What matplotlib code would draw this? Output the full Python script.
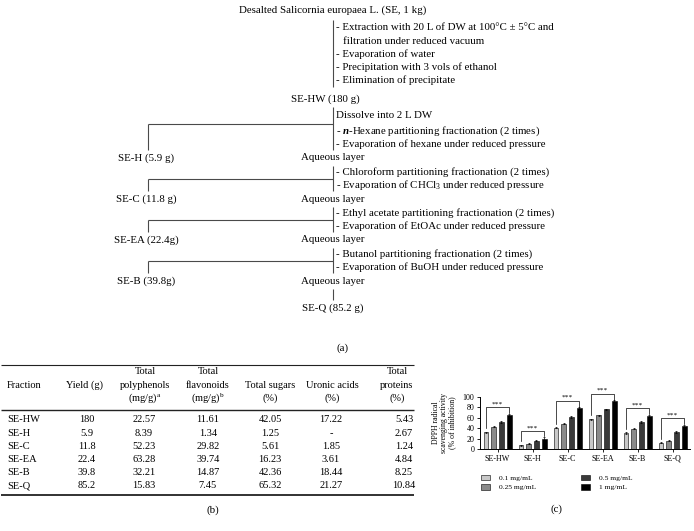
import numpy as np
import matplotlib
matplotlib.use("Agg")
import matplotlib.pyplot as plt

plt.rcParams["font.family"] = ["Liberation Serif", "DejaVu Serif"]
plt.rcParams["mathtext.fontset"] = "custom"
plt.rcParams["mathtext.rm"] = "Liberation Serif"
plt.rcParams["mathtext.it"] = "Liberation Serif:italic"
plt.rcParams["mathtext.bf"] = "Liberation Serif:bold:italic"

# ---------------- (a) flow chart text ----------------
start_label = "Desalted Salicornia europaea L. (SE, 1 kg)"
extraction_steps = [
    "- Extraction with 20 L of DW at 100°C ± 5°C and",
    "filtration under reduced vacuum",
    "- Evaporation of water",
    "- Precipitation with 3 vols of ethanol",
    "- Elimination of precipitate",
]
hw_label = "SE-HW (180 g)"
dissolve_label = "Dissolve into 2 L DW"
fraction_labels = ["SE-H (5.9 g)", "SE-C (11.8 g)", "SE-EA (22.4g)", "SE-B (39.8g)"]
partition_steps = [
    ["- $\\mathbf{n}$-Hexane partitioning fractionation (2 times)",
     "- Evaporation of hexane under reduced pressure"],
    ["- Chloroform partitioning fractionation (2 times)",
     "- Evaporation of CHCl$_3$ under reduced pressure"],
    ["- Ethyl acetate partitioning fractionation (2 times)",
     "- Evaporation of EtOAc under reduced pressure"],
    ["- Butanol partitioning fractionation (2 times)",
     "- Evaporation of BuOH under reduced pressure"],
]
aqueous_label = "Aqueous layer"
final_label = "SE-Q (85.2 g)"

# ---------------- (b) table ----------------
tbl_headers = [
    ["", "Fraction", ""],
    ["", "Yield (g)", ""],
    ["Total", "polyphenols", "(mg/g)$^{\\rm a}$"],
    ["Total", "flavonoids", "(mg/g)$^{\\rm b}$"],
    ["", "Total sugars", "(%)"],
    ["", "Uronic acids", "(%)"],
    ["Total", "proteins", "(%)"],
]
tbl_fractions = ["SE-HW", "SE-H", "SE-C", "SE-EA", "SE-B", "SE-Q"]
tbl_yield = ["180", "5.9", "11.8", "22.4", "39.8", "85.2"]
tbl_polyphenols = [22.57, 8.39, 52.23, 63.28, 32.21, 15.83]
tbl_flavonoids = [11.61, 1.34, 29.82, 39.74, 14.87, 7.45]
tbl_sugars = [42.05, 1.25, 5.61, 16.23, 42.36, 65.32]
tbl_uronic = [17.22, None, 1.85, 3.61, 18.44, 21.27]
tbl_proteins = [5.43, 2.67, 1.24, 4.84, 8.25, 10.84]

# ---------------- (c) DPPH bar chart ----------------
dpph_groups = ["SE-HW", "SE-H", "SE-C", "SE-EA", "SE-B", "SE-Q"]
concentrations = ["0.1 mg/mL", "0.25 mg/mL", "0.5 mg/mL", "1 mg/mL"]
dpph_01 = [32, 7, 41, 57, 31, 12]
dpph_025 = [43, 10, 49, 65, 39, 16]
dpph_05 = [52, 16, 62, 76, 52, 33]
dpph_1 = [66, 20, 78, 92, 64, 45]
err_01 = [1.5, 1.0, 1.5, 1.5, 1.5, 1.0]
err_025 = [1.0, 1.0, 1.0, 1.0, 1.0, 1.0]
err_05 = [1.5, 1.5, 1.5, 1.5, 1.5, 1.5]
err_1 = [2.0, 3.5, 2.0, 2.0, 2.0, 2.0]
bar_colors = ["#c8c8c8", "#8a8a8a", "#3a3a3a", "#000000"]

W, H = 694, 531
fig = plt.figure(figsize=(W / 100, H / 100), dpi=100)
canvas = fig.add_axes([0, 0, 1, 1])
canvas.set_xlim(0, W)
canvas.set_ylim(H, 0)
canvas.axis("off")

FS = 7.8
LC = "#4a4a4a"


def txt(x, y, s, ha="left", size=FS):
    canvas.text(x, y, s, ha=ha, va="center", fontsize=size)


def seg(xs, ys, lw=0.8, color=LC):
    canvas.plot(xs, ys, color=color, lw=lw, solid_capstyle="butt")


# ---- flow chart ----
cx = 333
lx = 148
rx = 336
txt(cx, 10, start_label, ha="center")
seg([cx, cx], [20, 87])
for i, s in enumerate(extraction_steps):
    txt(rx + (7 if i == 1 else 0), 28 + 13 * i, s)
txt(325, 99, hw_label, ha="center")
txt(rx, 115, dissolve_label)

prev = 107
for k, lab in enumerate(fraction_labels):
    row = 158 + 41 * k
    hy = 124 if k == 0 else row - 20.5
    seg([cx, cx], [prev, row - 8])
    seg([lx, cx], [hy, hy])
    seg([lx, lx], [hy, row - 8])
    txt(rx, row - 27, partition_steps[k][0])
    txt(rx, row - 14, partition_steps[k][1])
    txt(lx - 2, row, lab, ha="center")
    txt(cx, row, aqueous_label, ha="center")
    prev = row + 8
seg([cx, cx], [prev, 300])
txt(cx, 308, final_label, ha="center")
txt(343, 348, "(a)", ha="center")

# ---- table ----
TFS = 7.5
col_x = [7, 85, 145, 208, 270, 332, 397]
for c, (hx, hdr) in enumerate(zip(col_x, tbl_headers)):
    for r, s in enumerate(hdr):
        if s:
            txt(hx, 372 + 13 * r, s, ha="left" if c == 0 else "center", size=TFS)

fmt = lambda v: "-" if v is None else f"{v:.2f}"
columns = [tbl_fractions, tbl_yield,
           [fmt(v) for v in tbl_polyphenols], [fmt(v) for v in tbl_flavonoids],
           [fmt(v) for v in tbl_sugars], [fmt(v) for v in tbl_uronic],
           [fmt(v) for v in tbl_proteins]]
val_x = [7, 87, 144, 208, 270, 331, 404]
for c, col in enumerate(columns):
    for r, s in enumerate(col):
        txt(val_x[c], 420 + 13.2 * r, s, ha="left" if c == 0 else "center", size=TFS)

seg([1, 414], [365, 365], lw=0.8, color="#222222")
seg([1, 414], [410, 410], lw=1.0, color="#222222")
seg([1, 414], [495, 495], lw=1.3, color="#222222")
txt(213, 510, "(b)", ha="center")

# ---- bar chart ----
ax = fig.add_axes([480 / W, 1 - 449 / H, 210 / W, 52 / H])
vals = np.array([dpph_01, dpph_025, dpph_05, dpph_1]).T
errs = np.array([err_01, err_025, err_05, err_1]).T
x = np.arange(len(dpph_groups))
pitch = 0.22
bw = 0.14
offs = (np.arange(4) - 1.5) * pitch
for j in range(4):
    ax.bar(x + offs[j], vals[:, j], width=bw, color=bar_colors[j], edgecolor="black",
           linewidth=0.4, yerr=errs[:, j], label=concentrations[j],
           error_kw=dict(elinewidth=0.5, capsize=1.0, capthick=0.5, ecolor="black"))

for i in range(len(dpph_groups)):
    top = vals[i].max() + 14
    x0, x1 = x[i] + offs[0], x[i] + offs[3]
    ax.plot([x0, x0, x1, x1], [vals[i, 0] + 8, top, top, vals[i, 3] + errs[i, 3] + 1],
            color="black", lw=0.5, clip_on=False)
    ax.text((x0 + x1) / 2, top + 2, "***", ha="center", va="bottom", fontsize=5.3)

ax.set_xlim(-0.5, 5.5)
ax.set_ylim(0, 100)
ax.set_yticks(np.arange(0, 101, 20))
ax.set_xticks(x)
ax.set_xticklabels(dpph_groups)
ax.tick_params(labelsize=5.8, length=2, width=0.6, pad=2)
for sp in ["top", "right"]:
    ax.spines[sp].set_visible(False)
for sp in ["left", "bottom"]:
    ax.spines[sp].set_linewidth(0.7)
ax.set_ylabel("DPPH radical\nscavenging activity\n(% of inhibition)", fontsize=5.6,
              linespacing=1.0, labelpad=5)

handles, labels = ax.get_legend_handles_labels()
fig.legend(handles, labels, loc="upper left", bbox_to_anchor=(481 / W, 1 - 475 / H),
           ncol=2, frameon=False, fontsize=5.4, handlelength=1.2, handleheight=0.7,
           columnspacing=6.0, labelspacing=0.4, borderpad=0, borderaxespad=0,
           handletextpad=1.2)
txt(556, 509, "(c)", ha="center")

fig.savefig("out.png", dpi=100)
